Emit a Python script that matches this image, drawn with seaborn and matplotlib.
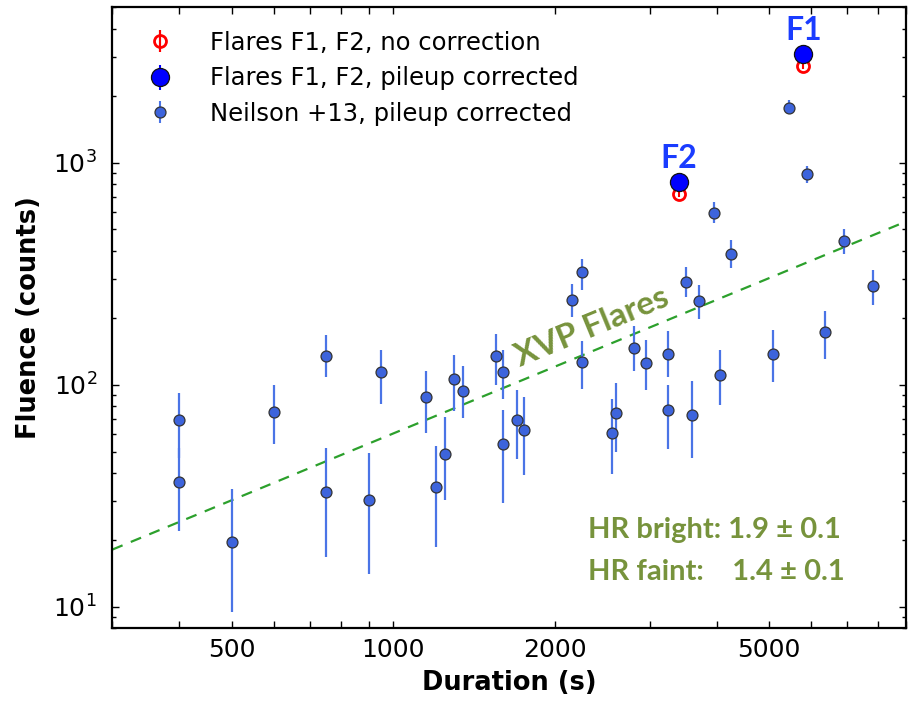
import numpy as np
import pandas as pd
import matplotlib
matplotlib.use("Agg")
import matplotlib.pyplot as plt
import seaborn as sns
from matplotlib.lines import Line2D
from matplotlib.ticker import FixedLocator, FixedFormatter, NullFormatter, LogLocator, LogFormatterMathtext

# ---------------- data ----------------
# Neilson +13 flares (pileup corrected)
duration = [400, 400, 500, 600, 750, 750, 900, 950, 1150, 1200, 1250, 1300, 1350,
            1550, 1600, 1600, 1700, 1750, 2150, 2250, 2250, 2550, 2600, 2800, 2950,
            3250, 3250, 3500, 3600, 3700, 3950, 4050, 4250, 5100, 5450, 5900, 6350,
            6900, 7800]
fluence = [69, 36.5, 19.5, 75, 135, 33, 30.4, 114, 87.7, 34.5, 48.5, 105.6, 93.3,
           134, 114, 54.2, 69, 62.2, 240, 320, 126, 60.5, 74.8, 146.8, 124.7,
           137.3, 76.8, 290, 73.3, 238, 595, 110, 389, 138, 1769, 889, 172,
           444, 277]
fluence_lo = [47, 22, 9.5, 54, 108, 16.7, 14.1, 81.5, 60.4, 18.5, 30.1, 75.8, 70.5,
              99.3, 86.5, 29.4, 46.1, 39.4, 201.6, 266, 96, 39.7, 50, 114.8, 95,
              108, 51.5, 248, 46.9, 198, 535, 80.7, 336, 103, 1692, 813, 130,
              389, 229]
fluence_hi = [92, 52, 34, 100, 168, 51.7, 49, 144, 115, 52.7, 71.2, 135.5, 121,
              168.5, 144, 76.6, 94.3, 87.7, 283, 368, 158, 85.9, 101.7, 183, 159.5,
              174, 100, 339, 104, 282, 663, 144, 447, 176, 1908, 965, 215,
              502, 330]

# Flares F1, F2
flare_names = ["F1", "F2"]
flare_duration = [5800, 3400]
flare_raw = [2723, 725]
flare_raw_lo = [2640, 700]
flare_raw_hi = [2810, 750]
flare_corr = [3074, 818]
flare_corr_lo = [2980, 790]
flare_corr_hi = [3170, 846]

# XVP flares trend (fluence proportional to duration)
trend_x = [300, 9000]
trend_norm = 0.0603
trend_label_x = 2340
trend_label_y = 182

hr_lines = ["HR bright: 1.9 \u00b1 0.1", "HR faint:    1.4 \u00b1 0.1"]

# ---------------- style ----------------
sns.set_style("ticks")
plt.rcParams['font.family'] = ['DejaVu Sans']
plt.rcParams['mathtext.fontset'] = 'dejavusans'
for k in ['text.color', 'axes.labelcolor', 'xtick.color', 'ytick.color']:
    plt.rcParams[k] = 'black'

fig = plt.figure(figsize=(9.13, 7.02), dpi=100)
ax = fig.add_axes([0.123, 0.105, 0.8693, 0.8845])

NB = "#3d64dc"      # Neilson marker colour
NB_ERR = "#4a74e6"
OLIVE = "#77933c"

df = pd.DataFrame({"duration": duration, "fluence": fluence,
                   "lo": fluence_lo, "hi": fluence_hi})
fl = pd.DataFrame({"name": flare_names, "duration": flare_duration,
                   "raw": flare_raw, "raw_lo": flare_raw_lo, "raw_hi": flare_raw_hi,
                   "corr": flare_corr, "corr_lo": flare_corr_lo, "corr_hi": flare_corr_hi})

ax.set_xscale("log")
ax.set_yscale("log")

# trend line
tx = np.array(trend_x, dtype=float)
tdf = pd.DataFrame({"x": tx, "y": trend_norm * tx})
sns.lineplot(data=tdf, x="x", y="y", ax=ax, color="#2ca02c", lw=1.6,
             linestyle=(0, (5, 4)), zorder=2)

# Neilson error bars + markers
ax.vlines(df["duration"], df["lo"], df["hi"], color=NB_ERR, lw=1.6, zorder=3)
sns.scatterplot(data=df, x="duration", y="fluence", ax=ax, color=NB, s=62,
                edgecolor="#333333", linewidth=0.9, zorder=4, legend=False)

# flares: raw (red open)
sns.scatterplot(data=fl, x="duration", y="raw", ax=ax, marker="o", s=75,
                facecolor="white", edgecolor="red", linewidth=2.0, zorder=5, legend=False)
ax.vlines(fl["duration"], fl["raw_lo"], fl["raw_hi"], color="red", lw=1.5, zorder=6)
# flares: corrected (blue filled)
ax.vlines(fl["duration"], fl["corr_lo"], fl["corr_hi"], color="blue", lw=1.5, zorder=6)
sns.scatterplot(data=fl, x="duration", y="corr", ax=ax, color="blue", s=170,
                edgecolor="#111111", linewidth=0.9, zorder=7, legend=False)

for _, r in fl.iterrows():
    ax.annotate(r["name"], (r["duration"], r["corr"]), xytext=(0, 17),
                textcoords="offset points", ha="center", va="center",
                color="#1a3cff", fontsize=23, fontweight="bold", family="Lato",
                zorder=8)

ax.set_xlim(300, 9000)
ax.set_ylim(8, 5000)

# ticks
ax.xaxis.set_major_locator(FixedLocator([500, 1000, 2000, 5000]))
ax.xaxis.set_major_formatter(FixedFormatter(["500", "1000", "2000", "5000"]))
ax.xaxis.set_minor_locator(FixedLocator([300, 400, 600, 700, 800, 900, 3000, 4000,
                                         6000, 7000, 8000, 9000]))
ax.xaxis.set_minor_formatter(NullFormatter())
ax.yaxis.set_major_locator(LogLocator(base=10))
ax.yaxis.set_major_formatter(LogFormatterMathtext())
ax.yaxis.set_minor_locator(LogLocator(base=10, subs=np.arange(2, 10)))
ax.yaxis.set_minor_formatter(NullFormatter())
ax.tick_params(which="both", direction="in", top=True, right=True, color="black",
               width=1.0, labelsize=18, labelcolor="black")
ax.tick_params(axis="x", which="both", length=5, pad=7)
ax.tick_params(axis="y", which="major", length=5, pad=11)
ax.tick_params(axis="y", which="minor", length=3)
for s in ax.spines.values():
    s.set_linewidth(1.6)
    s.set_color("black")

ax.set_xlabel("Duration (s)", fontsize=18.5, fontweight="bold", labelpad=6, color="black")
ax.set_ylabel("Fluence (counts)", fontsize=18.5, fontweight="bold", labelpad=8, color="black")

# texts
ax.text(trend_label_x, trend_label_y, "XVP Flares", rotation=22.4, rotation_mode="anchor",
        ha="center", va="center", color=OLIVE, fontsize=24, fontweight="bold",
        family="Lato", zorder=8)
ax.text(0.599, 0.158, hr_lines[0], transform=ax.transAxes, ha="left", va="center",
        color=OLIVE, fontsize=21, fontweight="bold", family="Lato")
ax.text(0.599, 0.091, hr_lines[1], transform=ax.transAxes, ha="left", va="center",
        color=OLIVE, fontsize=21, fontweight="bold", family="Lato")

# legend
h1 = (Line2D([], [], marker="|", markersize=16, mew=1.5, color="red", ls="none"),
      Line2D([], [], marker="o", markersize=8.6, mfc="none", mec="red", mew=2.0, ls="none"),
      Line2D([], [], marker="|", markersize=16, mew=1.5, color="red", ls="none"))
h2 = (Line2D([], [], marker="|", markersize=18, mew=1.5, color="blue", ls="none"),
      Line2D([], [], marker="o", markersize=13, mfc="blue", mec="#111111", mew=0.9, ls="none"))
h3 = (Line2D([], [], marker="|", markersize=16, mew=1.5, color=NB_ERR, ls="none"),
      Line2D([], [], marker="o", markersize=7.9, mfc=NB, mec="#333333", mew=0.9, ls="none"))
leg = ax.legend([h1, h2, h3],
          ["Flares F1, F2, no correction", "Flares F1, F2, pileup corrected",
           "Neilson +13, pileup corrected"],
          loc="upper left", bbox_to_anchor=(0.022, 0.99), frameon=False, fontsize=17.5,
          handlelength=1.1, handletextpad=1.5, labelspacing=0.48, borderaxespad=0.3)
for t in leg.get_texts():
    t.set_color("black")

fig.savefig("out.png", dpi=100)
